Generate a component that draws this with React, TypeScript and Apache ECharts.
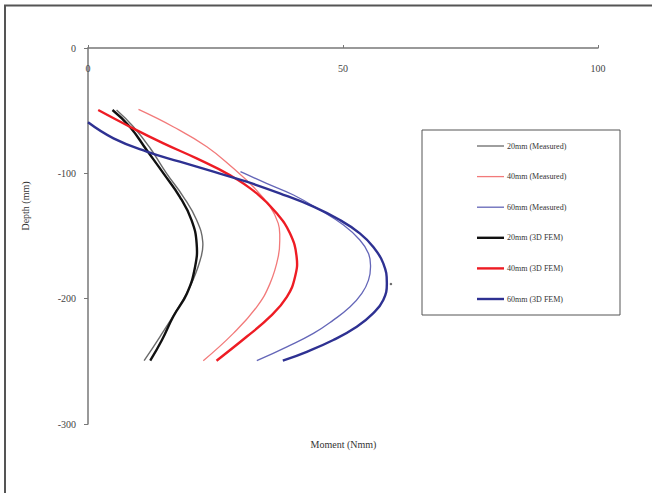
import React, { useEffect, useRef } from "react";
import * as echarts from "echarts";

// Moment (Nmm) vs Depth (mm)
const m20Measured: [number, number][] = [
  [5.6, -49.5], [8.9, -62.8], [12.2, -80], [15.4, -100], [18.7, -118.7], [21.3, -137.3],
  [22.5, -154.6], [22.0, -169.2], [20.0, -190.5], [17.4, -209.1], [14.1, -230.4], [11.0, -249.5],
];
const m40Measured: [number, number][] = [
  [9.9, -49], [16.7, -62.8], [23.3, -78.8], [28.5, -96], [32.4, -110.7], [35.7, -126.6],
  [37.3, -139.9], [37.6, -150.6], [37.3, -166.5], [35.7, -187.8], [33.1, -206.5], [28.5, -227.7], [22.6, -249.5],
];
const m60Measured: [number, number][] = [
  [29.9, -98.7], [35.0, -108], [40.3, -117.3], [45.5, -129.3], [50.1, -141.3], [53.3, -153.2],
  [55.0, -163.9], [55.4, -174.5], [55.0, -185.2], [53.7, -195.8], [51.4, -206.5], [48.1, -217.1],
  [44.2, -227.7], [39.0, -238.4], [33.1, -249.5],
];
const m20Fem: [number, number][] = [
  [4.8, -49.5], [8.2, -62.8], [11.5, -81.4], [14.8, -100], [18.0, -118.7], [20.3, -137.3],
  [21.3, -155.9], [21.0, -174.5], [19.4, -195.8], [16.7, -214.4], [14.5, -233], [12.2, -249.5],
];
const m40Fem: [number, number][] = [
  [2.0, -49.5], [8.2, -62.8], [14.8, -76.1], [21.3, -88.1], [27.8, -101.4], [33.1, -116],
  [37.0, -131.9], [39.6, -147.9], [40.9, -166.5], [40.6, -182.5], [39.0, -198.5], [35.7, -214.4],
  [31.1, -230.4], [25.2, -249.5],
];
const m60Fem: [number, number][] = [
  [0, -59.3], [5.0, -72.1], [11.5, -82.7], [18.0, -90.7], [24.6, -98.7], [31.1, -106.7],
  [37.6, -116], [44.2, -126.6], [49.4, -137.3], [53.3, -147.9], [55.9, -158.6], [57.9, -171.8],
  [58.6, -187.8], [57.9, -201], [55.9, -211.7], [52.7, -222.4], [48.1, -233], [42.9, -242.4], [38.2, -249.5],
];
const strayDot: [number, number][] = [[59.4, -188.3]];

const seriesNames = [
  "20mm (Measured)",
  "40mm (Measured)",
  "60mm (Measured)",
  "20mm (3D FEM)",
  "40mm (3D FEM)",
  "60mm (3D FEM)",
];
const xTicks = { min: 0, max: 100, interval: 50 };
const yTicks = { min: -300, max: 0, interval: 100 };

const SERIF = "'Liberation Serif', 'DejaVu Serif', serif";

export default function App() {
  const ref = useRef<HTMLDivElement>(null);
  useEffect(() => {
    if (!ref.current) return;
    const chart = echarts.init(ref.current, undefined, { renderer: "svg" });
    const datasets = [m20Measured, m40Measured, m60Measured, m20Fem, m40Fem, m60Fem];
    const colors = ["#6a6a6a", "#f27a7a", "#6466b8", "#111111", "#ee1c24", "#2e3192"];
    const widths = [1.4, 1.3, 1.3, 2.4, 2.4, 2.4];
    const series: any[] = datasets.map((d, i) => ({
      name: seriesNames[i],
      type: "custom",
      coordinateSystem: "cartesian2d",
      data: d,
      encode: { x: 0, y: 1 },
      itemStyle: { color: colors[i] },
      z: i < 3 ? 2 : 3,
      renderItem: (params: any, api: any) => {
        if (params.dataIndexInside !== 0) return null;
        const pts: number[][] = [];
        for (let k = 0; k < params.dataInsideLength; k++) {
          pts.push(api.coord([api.value(0, k), api.value(1, k)]));
        }
        return {
          type: "polyline",
          shape: { points: pts, smooth: 0.45 },
          style: { stroke: colors[i], lineWidth: widths[i], fill: null },
        };
      },
    }));
    series.push({
      name: "dot",
      type: "scatter",
      data: strayDot,
      symbolSize: 2.5,
      itemStyle: { color: "#444" },
    });
    const thin = "path://M0,0H27V1.3H0Z";
    const thick = "path://M0,0H27V2.4H0Z";
    chart.setOption({
      animation: false,
      backgroundColor: "#ffffff",
      grid: { left: 88, top: 48, width: 510, height: 376 },
      xAxis: {
        type: "value",
        position: "top",
        min: xTicks.min,
        max: xTicks.max,
        interval: xTicks.interval,
        axisLine: { show: true, lineStyle: { color: "#777", width: 1.5 } },
        axisTick: { show: true, length: 3, inside: false, lineStyle: { color: "#777" } },
        axisLabel: { inside: true, margin: 15, color: "#444", fontSize: 10, fontFamily: SERIF },
        splitLine: { show: false },
      },
      yAxis: {
        type: "value",
        min: yTicks.min,
        max: yTicks.max,
        interval: yTicks.interval,
        axisLine: { show: true, onZero: false, lineStyle: { color: "#777", width: 1.5 } },
        axisTick: { show: true, length: 4, lineStyle: { color: "#777" } },
        axisLabel: { margin: 12, color: "#444", fontSize: 10, fontFamily: SERIF },
        splitLine: { show: false },
      },
      legend: {
        data: seriesNames.map((n, i) => ({
          name: n,
          icon: i < 3 ? thin : thick,
          itemStyle: { color: colors[i] },
        })),
        orient: "vertical",
        left: 477,
        top: 142,
        padding: 0,
        itemWidth: 27,
        itemHeight: 10,
        itemGap: 22.6,
        textStyle: { fontSize: 8, fontFamily: SERIF, color: "#333", padding: [0, 0, 0, -2] },
      },
      graphic: [
        {
          type: "rect",
          shape: { x: 422, y: 130, width: 198, height: 185 },
          style: { fill: "none", stroke: "#555", lineWidth: 1 },
          silent: true,
        },
        {
          type: "line",
          shape: { x1: 4, y1: 5.5, x2: 652, y2: 5.5 },
          style: { stroke: "#555", lineWidth: 2 },
        },
        {
          type: "line",
          shape: { x1: 5, y1: 5, x2: 5, y2: 493 },
          style: { stroke: "#555", lineWidth: 2 },
        },
        {
          type: "text",
          x: 343.5,
          y: 444,
          style: {
            text: "Moment (Nmm)",
            fontSize: 10,
            fontFamily: SERIF,
            fill: "#333",
            align: "center",
            verticalAlign: "middle",
          },
        },
        {
          type: "text",
          x: 25,
          y: 206,
          rotation: Math.PI / 2,
          style: {
            text: "Depth (mm)",
            fontSize: 10,
            fontFamily: SERIF,
            fill: "#333",
            align: "center",
            verticalAlign: "middle",
          },
        },
      ],
      series,
    });
    return () => chart.dispose();
  }, []);
  return (
    <div
      ref={ref}
      style={{ position: "absolute", left: 0, top: 0, width: 652, height: 493 }}
    />
  );
}
